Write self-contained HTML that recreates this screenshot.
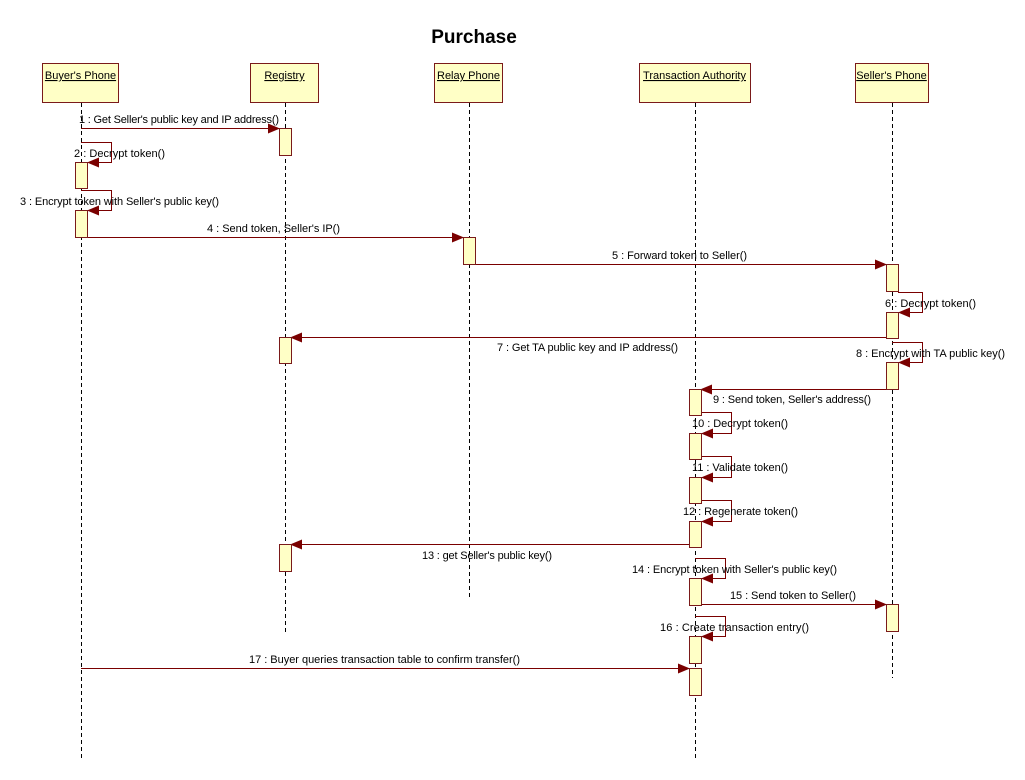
<!DOCTYPE html>
<html><head><meta charset="utf-8"><style>
html,body{margin:0;padding:0;background:#fff;}
svg{display:block;font-family:"Liberation Sans",sans-serif;}
text{font-size:11px;fill:#000;}
.u{text-decoration:underline;}
</style></head><body>
<svg width="1025" height="780" viewBox="0 0 1025 780" xmlns="http://www.w3.org/2000/svg">
<defs><marker id="a" markerWidth="12" markerHeight="10" refX="11" refY="5" orient="auto" markerUnits="userSpaceOnUse"><path d="M0,0 L12,5 L0,10 z" fill="#7a0000"/></marker></defs>
<text x="474" y="43" text-anchor="middle" style="font-size:19px;font-weight:bold;">Purchase</text>
<g fill="#ffffc6" stroke="#7a1a1a" stroke-width="1">
<rect x="42.5" y="63.5" width="76" height="39"/>
<rect x="250.5" y="63.5" width="68" height="39"/>
<rect x="434.5" y="63.5" width="68" height="39"/>
<rect x="639.5" y="63.5" width="111" height="39"/>
<rect x="855.5" y="63.5" width="73" height="39"/>
</g>
<g text-anchor="middle">
<text x="80.5" y="79" class="u">Buyer's Phone</text>
<text x="284.5" y="79" class="u">Registry</text>
<text x="468.5" y="79" class="u">Relay Phone</text>
<text x="694.5" y="79" class="u">Transaction Authority</text>
<text x="891.5" y="79" class="u">Seller's Phone</text>
</g>
<g stroke="#000" stroke-dasharray="4,3" stroke-width="1">
<line x1="81.5" y1="103" x2="81.5" y2="760"/>
<line x1="285.5" y1="103" x2="285.5" y2="635"/>
<line x1="469.5" y1="103" x2="469.5" y2="598"/>
<line x1="695.5" y1="103" x2="695.5" y2="760"/>
<line x1="892.5" y1="103" x2="892.5" y2="678"/>
</g>
<g fill="none" stroke="#7a0000" stroke-width="1">
<line x1="81" y1="128.5" x2="279" y2="128.5" marker-end="url(#a)"/>
<polyline points="81,142.5 111.5,142.5 111.5,162.5 88,162.5" marker-end="url(#a)"/>
<polyline points="81,190.5 111.5,190.5 111.5,210.5 88,210.5" marker-end="url(#a)"/>
<line x1="87" y1="237.5" x2="463" y2="237.5" marker-end="url(#a)"/>
<line x1="475" y1="264.5" x2="886" y2="264.5" marker-end="url(#a)"/>
<polyline points="898,292.5 922.5,292.5 922.5,312.5 899,312.5" marker-end="url(#a)"/>
<line x1="886" y1="337.5" x2="291" y2="337.5" marker-end="url(#a)"/>
<polyline points="892,342.5 922.5,342.5 922.5,362.5 899,362.5" marker-end="url(#a)"/>
<line x1="886" y1="389.5" x2="701" y2="389.5" marker-end="url(#a)"/>
<polyline points="701,412.5 731.5,412.5 731.5,433.5 702,433.5" marker-end="url(#a)"/>
<polyline points="701,456.5 731.5,456.5 731.5,477.5 702,477.5" marker-end="url(#a)"/>
<polyline points="701,500.5 731.5,500.5 731.5,521.5 702,521.5" marker-end="url(#a)"/>
<line x1="689" y1="544.5" x2="291" y2="544.5" marker-end="url(#a)"/>
<polyline points="695,558.5 725.5,558.5 725.5,578.5 702,578.5" marker-end="url(#a)"/>
<line x1="701" y1="604.5" x2="886" y2="604.5" marker-end="url(#a)"/>
<polyline points="695,616.5 725.5,616.5 725.5,636.5 702,636.5" marker-end="url(#a)"/>
<line x1="81" y1="668.5" x2="689" y2="668.5" marker-end="url(#a)"/>
</g>
<g fill="#ffffc6" stroke="#7a1a1a" stroke-width="1">
<rect x="75.5" y="162.5" width="12" height="26"/>
<rect x="75.5" y="210.5" width="12" height="27"/>
<rect x="279.5" y="128.5" width="12" height="27"/>
<rect x="279.5" y="337.5" width="12" height="26"/>
<rect x="279.5" y="544.5" width="12" height="27"/>
<rect x="463.5" y="237.5" width="12" height="27"/>
<rect x="886.5" y="264.5" width="12" height="27"/>
<rect x="886.5" y="312.5" width="12" height="26"/>
<rect x="886.5" y="362.5" width="12" height="27"/>
<rect x="886.5" y="604.5" width="12" height="27"/>
<rect x="689.5" y="389.5" width="12" height="26"/>
<rect x="689.5" y="433.5" width="12" height="26"/>
<rect x="689.5" y="477.5" width="12" height="26"/>
<rect x="689.5" y="521.5" width="12" height="26"/>
<rect x="689.5" y="578.5" width="12" height="27"/>
<rect x="689.5" y="636.5" width="12" height="27"/>
<rect x="689.5" y="668.5" width="12" height="27"/>
</g>
<text x="79" y="123" textLength="200">1 : Get Seller's public key and IP address()</text>
<text x="74" y="157" textLength="91">2 : Decrypt token()</text>
<text x="20" y="205" textLength="199">3 : Encrypt token with Seller's public key()</text>
<text x="207" y="232" textLength="133">4 : Send token,  Seller's IP()</text>
<text x="612" y="259" textLength="135">5 : Forward token to Seller()</text>
<text x="885" y="307" textLength="91">6 : Decrypt token()</text>
<text x="497" y="351" textLength="181">7 : Get TA public key and IP address()</text>
<text x="856" y="357" textLength="149">8 : Encrypt with TA public key()</text>
<text x="713" y="403" textLength="158">9 : Send token, Seller's address()</text>
<text x="692" y="427" textLength="96">10 : Decrypt token()</text>
<text x="692" y="471" textLength="96">11 : Validate token()</text>
<text x="683" y="515" textLength="115">12 : Regenerate token()</text>
<text x="422" y="559" textLength="130">13 : get Seller's public key()</text>
<text x="632" y="573" textLength="205">14 : Encrypt token with Seller's public key()</text>
<text x="730" y="599" textLength="126">15 : Send token to Seller()</text>
<text x="660" y="631" textLength="149">16 : Create transaction entry()</text>
<text x="249" y="663" textLength="271">17 : Buyer queries transaction table to confirm transfer()</text>
</svg>
</body></html>
